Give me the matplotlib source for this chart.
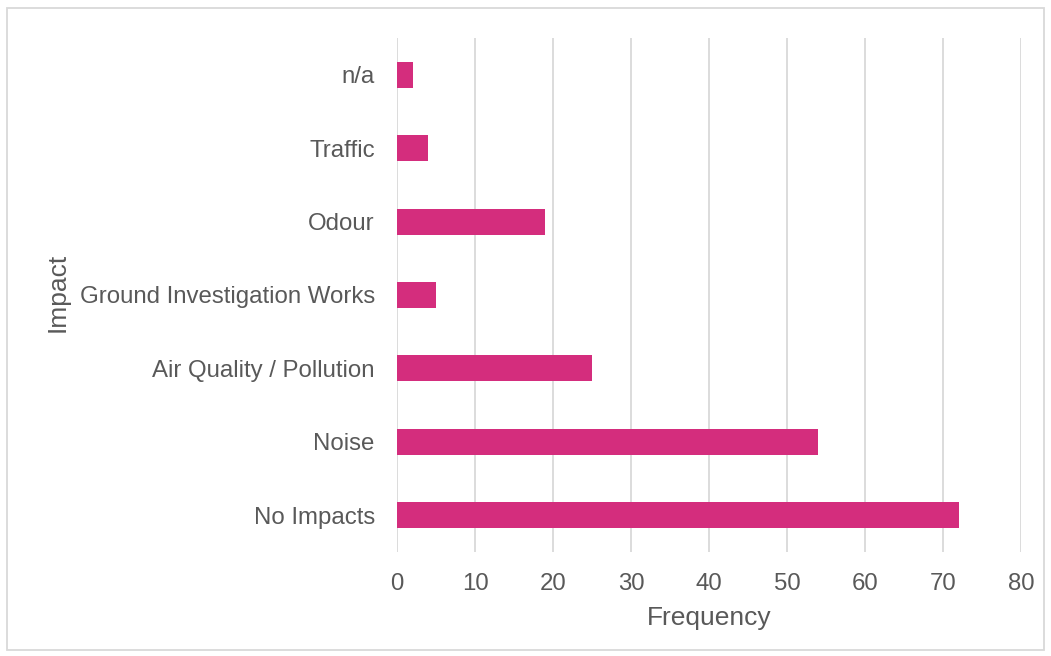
import matplotlib
matplotlib.use('Agg')
import matplotlib.pyplot as plt
from matplotlib.patches import Rectangle

# data (bottom to top)
impacts = ['No Impacts', 'Noise', 'Air Quality / Pollution',
           'Ground Investigation Works', 'Odour', 'Traffic', 'n/a']
frequency = [72, 54, 25, 5, 19, 4, 2]
x_ticks = [0, 10, 20, 30, 40, 50, 60, 70, 80]

bar_colour = '#D42D7D'
text_colour = '#595959'
grid_colour = '#D9D9D9'

plt.rcParams['font.family'] = ['Liberation Sans', 'DejaVu Sans']

fig = plt.figure(figsize=(10.51, 6.56), dpi=100)
ax = fig.add_axes([397 / 1051, 1 - 552 / 656, 624 / 1051, 514 / 656])

ax.barh(range(len(impacts)), frequency, height=0.355, color=bar_colour, zorder=3)

ax.set_xlim(0, 80)
ax.set_ylim(-0.5, len(impacts) - 0.5)
ax.set_xticks(x_ticks)
ax.set_yticks(range(len(impacts)))
ax.set_yticklabels(impacts)
ax.grid(axis='x', color=grid_colour, linewidth=1.3, zorder=0)
ax.tick_params(axis='both', length=0, labelsize=17.3, colors=text_colour)
ax.tick_params(axis='x', pad=15)
ax.tick_params(axis='y', pad=16)
for s in ax.spines.values():
    s.set_visible(False)

ax.set_xlabel('Frequency', fontsize=19, color=text_colour, labelpad=8)
ax.set_ylabel('Impact', fontsize=19, color=text_colour, labelpad=5)
ax.yaxis.set_label_coords(-0.525, 0.505)

# light border round the chart area
fig.patches.append(Rectangle((7 / 1051, 6 / 656), 1037 / 1051, 642 / 656,
                             transform=fig.transFigure, fill=False,
                             edgecolor=grid_colour, linewidth=1.3))

fig.savefig('out.png', dpi=100)
